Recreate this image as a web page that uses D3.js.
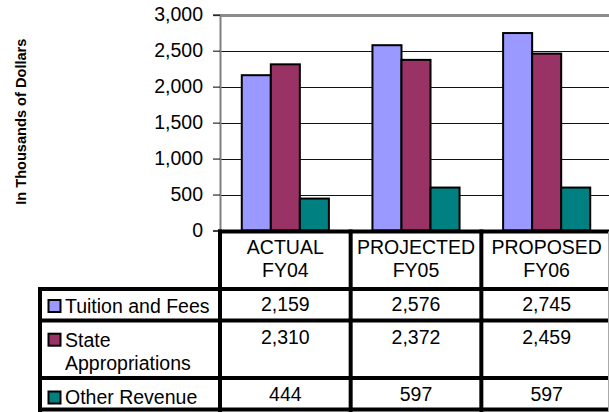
<!DOCTYPE html>
<html>
<head>
<meta charset="utf-8">
<script src="https://cdn.jsdelivr.net/npm/d3@7"></script>
<style>
  html, body { margin: 0; padding: 0; background: #fff; }
  svg { display: block; font-family: "Liberation Sans", Arial, sans-serif; }
</style>
</head>
<body>
<svg id="chart" width="609" height="412"></svg>
<script>
// ---- data ----
const categories = ["ACTUAL FY04", "PROJECTED FY05", "PROPOSED FY06"];
const seriesNames = ["Tuition and Fees", "State Appropriations", "Other Revenue"];
const tuitionAndFees = [2159, 2576, 2745];
const stateAppropriations = [2310, 2372, 2459];
const otherRevenue = [444, 597, 597];
const yTicks = [0, 500, 1000, 1500, 2000, 2500, 3000];
const yTitle = "In Thousands of Dollars";

const seriesValues = [tuitionAndFees, stateAppropriations, otherRevenue];
const colors = ["#9999FF", "#993366", "#008080"];

// ---- layout ----
const W = 609, H = 412;
const plotLeft = 220, plotRight = 612, plotTop = 14.7, plotBottom = 230.5;
const fontSize = 19.5;
const svg = d3.select("#chart");

const x = d3.scaleBand().domain(categories).range([plotLeft, plotRight]).paddingInner(0).paddingOuter(0);
const bw = x.bandwidth();
const gap = bw * 1.5 / 4.5;
const x1 = d3.scaleBand().domain(d3.range(seriesNames.length)).range([gap / 2, bw - gap / 2]).padding(0);
const y = d3.scaleLinear().domain([0, 3000]).range([plotBottom, plotTop]);

// gridlines
svg.append("g").selectAll("line")
  .data(yTicks.filter(d => d > 0))
  .join("line")
  .attr("x1", plotLeft).attr("x2", W)
  .attr("y1", d => Math.round(y(d)) + 0.5).attr("y2", d => Math.round(y(d)) + 0.5)
  .attr("stroke", d => d === 3000 ? "#8c8c8c" : "#111")
  .attr("stroke-width", d => d === 3000 ? 3 : 1);

// axis
const axis = d3.axisLeft(y).tickValues(yTicks).tickSize(7).tickPadding(10).tickFormat(d3.format(","));
const gAxis = svg.append("g").attr("transform", `translate(${plotLeft},0)`).call(axis);
gAxis.select(".domain").attr("stroke", "#808080").attr("stroke-width", 2);
gAxis.selectAll(".tick line").attr("stroke", "#000");
gAxis.selectAll(".tick text").attr("font-size", fontSize).attr("fill", "#000")
  .attr("font-family", "'Liberation Sans', Arial, sans-serif");

// y title
svg.append("text")
  .attr("transform", `translate(26,121.7) rotate(-90)`)
  .attr("text-anchor", "middle")
  .attr("font-weight", "bold")
  .attr("font-size", 14.6)
  .text(yTitle);

// bars
const groups = svg.append("g").selectAll("g")
  .data(categories)
  .join("g")
  .attr("transform", d => `translate(${x(d)},0)`);
groups.selectAll("rect")
  .data((c, ci) => seriesValues.map((vals, si) => ({ si, v: vals[ci] })))
  .join("rect")
  .attr("x", d => x1(d.si))
  .attr("width", x1.bandwidth())
  .attr("y", d => y(d.v))
  .attr("height", d => y(0) - y(d.v))
  .attr("fill", d => colors[d.si])
  .attr("stroke", "#000")
  .attr("stroke-width", 2);

// ---- data table ----
const tableLeft = 40;
const rowEdges = [231.5, 289, 320.5, 378, 409.5];
const valueCenters = [304.5, 336.7, 394.5];
const labelCenters = [306, 339.7, 397.5];
const lineGap = 23.3;
const tbl = svg.append("g");

// header text
categories.forEach(c => {
  const idx = c.lastIndexOf(" ");
  const lines = [c.slice(0, idx), c.slice(idx + 1)];
  const cx = x(c) + bw / 2;
  lines.forEach((ln, i) => {
    tbl.append("text")
      .attr("x", cx).attr("y", 246.7 + i * 23.6)
      .attr("dy", "0.35em")
      .attr("text-anchor", "middle")
      .attr("font-size", fontSize)
      .text(ln);
  });
});

// rows
const fmt = d3.format(",");
seriesNames.forEach((name, si) => {
  // legend key
  tbl.append("rect")
    .attr("x", 48.5).attr("y", labelCenters[si] - 6)
    .attr("width", 12).attr("height", 12)
    .attr("fill", colors[si]).attr("stroke", "#000").attr("stroke-width", 2);
  // label with wrapping
  const maxW = plotLeft - 65 - 6;
  const words = name.split(" ");
  const lines = [];
  let cur = "";
  const t = tbl.append("text").attr("font-size", fontSize).attr("x", 65);
  words.forEach(w => {
    const test = cur ? cur + " " + w : w;
    t.text(test);
    if (t.node().getComputedTextLength() > maxW && cur) {
      lines.push(cur);
      cur = w;
    } else {
      cur = test;
    }
  });
  lines.push(cur);
  t.text(null);
  lines.forEach((ln, i) => {
    t.append("tspan").attr("x", 65).attr("y", labelCenters[si] + i * lineGap).attr("dy", "0.35em").text(ln);
  });
  // values
  categories.forEach((c, ci) => {
    tbl.append("text")
      .attr("x", x(c) + bw / 2).attr("y", valueCenters[si])
      .attr("dy", "0.35em")
      .attr("text-anchor", "middle")
      .attr("font-size", fontSize)
      .text(fmt(seriesValues[si][ci]));
  });
});

// table borders
const bw4 = 4;
// header top
tbl.append("line").attr("x1", plotLeft - 2).attr("x2", W).attr("y1", rowEdges[0]).attr("y2", rowEdges[0])
  .attr("stroke", "#000").attr("stroke-width", bw4);
// row lines
rowEdges.slice(1).forEach(yy => {
  tbl.append("line").attr("x1", tableLeft - 2).attr("x2", W).attr("y1", yy).attr("y2", yy)
    .attr("stroke", "#000").attr("stroke-width", bw4);
});
// vertical at plotLeft and category boundaries
categories.forEach(c => {
  tbl.append("line").attr("x1", x(c)).attr("x2", x(c)).attr("y1", rowEdges[0] - 2).attr("y2", H)
    .attr("stroke", "#000").attr("stroke-width", bw4);
});
// left edge of table
tbl.append("line").attr("x1", tableLeft).attr("x2", tableLeft).attr("y1", rowEdges[1] - 2).attr("y2", H)
  .attr("stroke", "#000").attr("stroke-width", bw4);
// right clipped edge
tbl.append("line").attr("x1", 608.5).attr("x2", 608.5).attr("y1", rowEdges[0]).attr("y2", H)
  .attr("stroke", "#aaa").attr("stroke-width", 1);
</script>
</body>
</html>
